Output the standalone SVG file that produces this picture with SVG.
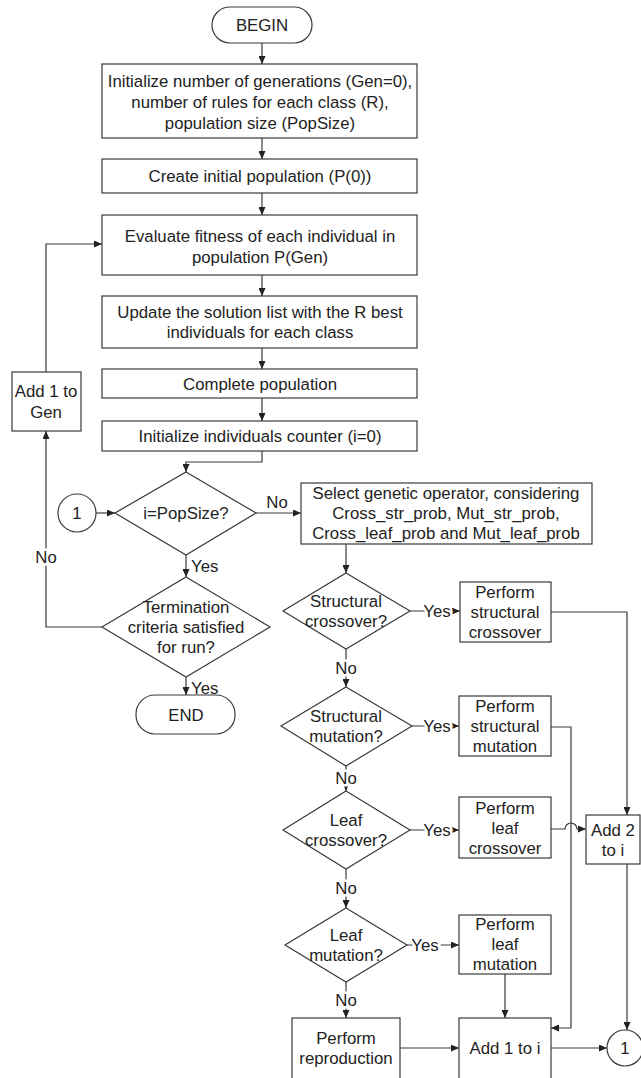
<svg xmlns="http://www.w3.org/2000/svg" width="641" height="1078" viewBox="0 0 641 1078">
<style>
.s{fill:#fff;stroke:#3a3a3a;stroke-width:1.2}
.c{fill:none;stroke:#3a3a3a;stroke-width:1.2}
text{font-family:"Liberation Sans",Arial,sans-serif;font-size:16.8px;fill:#222;text-anchor:middle}
.l{stroke:#fff;stroke-width:5;paint-order:stroke}
.st{text-anchor:start}
</style>
<defs>
<marker id="a" markerWidth="8" markerHeight="7" refX="8" refY="3.5" orient="auto" markerUnits="userSpaceOnUse">
<path d="M0,0 L8,3.5 L0,7 z" fill="#222"/>
</marker>
</defs>
<rect width="641" height="1078" fill="#fff"/>
<g id="connectors" class="c">
<path d="M262,43 V64" marker-end="url(#a)"/>
<path d="M262,138 V159" marker-end="url(#a)"/>
<path d="M262,193 V215" marker-end="url(#a)"/>
<path d="M262,275 V296" marker-end="url(#a)"/>
<path d="M262,348 V369" marker-end="url(#a)"/>
<path d="M262,398 V421" marker-end="url(#a)"/>
<path d="M262,451 V462 H186 V472" marker-end="url(#a)"/>
<path d="M96,513 H115" marker-end="url(#a)"/>
<path d="M256,513 H301" marker-end="url(#a)"/>
<path d="M186,555 V577" marker-end="url(#a)"/>
<path d="M186,677 V695" marker-end="url(#a)"/>
<path d="M102,627 H46 V431" marker-end="url(#a)"/>
<path d="M46,372 V244 H102" marker-end="url(#a)"/>
<path d="M346,544 V573" marker-end="url(#a)"/>
<path d="M410,611 H460" marker-end="url(#a)"/>
<path d="M551,612 H627 V815" marker-end="url(#a)"/>
<path d="M346,649 V687" marker-end="url(#a)"/>
<path d="M412,726 H459" marker-end="url(#a)"/>
<path d="M551,727 H571 V1028 H551" marker-end="url(#a)"/>
<path d="M346,766 V791" marker-end="url(#a)"/>
<path d="M410,830 H459" marker-end="url(#a)"/>
<path d="M551,829 H565 A6,6 0 0 1 577,829 H586" marker-end="url(#a)"/>
<path d="M346,869 V908" marker-end="url(#a)"/>
<path d="M407,945 H459" marker-end="url(#a)"/>
<path d="M505,974 V1018" marker-end="url(#a)"/>
<path d="M346,982 V1018" marker-end="url(#a)"/>
<path d="M400,1048 H459" marker-end="url(#a)"/>
<path d="M551,1048 H607" marker-end="url(#a)"/>
<path d="M627,864 V1030" marker-end="url(#a)"/>
</g>
<g id="labels">
<text x="277" y="508">No</text>
<text class="st" x="191" y="572">Yes</text>
<text class="st" x="191" y="694">Yes</text>
<text class="l" x="46" y="563">No</text>
<text class="l" x="437" y="617">Yes</text>
<text class="l" x="346" y="674">No</text>
<text class="l" x="437" y="732">Yes</text>
<text class="l" x="346" y="784">No</text>
<text class="l" x="437" y="836">Yes</text>
<text class="l" x="346" y="894">No</text>
<text class="l" x="425" y="951">Yes</text>
<text class="l" x="346" y="1006">No</text>
</g>
<g id="begin"><rect class="s" x="212" y="7" width="100" height="36" rx="18"/><text x="262" y="31">BEGIN</text></g>
<g id="init"><rect class="s" x="102" y="64" width="315" height="74"/><text x="260" y="87">Initialize number of generations (Gen=0),</text><text x="260" y="108">number of rules for each class (R),</text><text x="260" y="129">population size (PopSize)</text></g>
<g id="create"><rect class="s" x="102" y="159" width="315" height="34"/><text x="260" y="182">Create initial population (P(0))</text></g>
<g id="evaluate"><rect class="s" x="102" y="215" width="315" height="60"/><text x="260" y="242">Evaluate fitness of each individual in</text><text x="260" y="263">population P(Gen)</text></g>
<g id="update"><rect class="s" x="102" y="296" width="315" height="52"/><text x="260" y="318">Update the solution list with the R best</text><text x="260" y="338">individuals for each class</text></g>
<g id="complete"><rect class="s" x="102" y="369" width="315" height="29"/><text x="260" y="390">Complete population</text></g>
<g id="counter"><rect class="s" x="102" y="421" width="315" height="30"/><text x="260" y="442">Initialize individuals counter (i=0)</text></g>
<g id="addgen"><rect class="s" x="12" y="372" width="69" height="59"/><text x="46" y="397">Add 1 to</text><text x="46" y="418">Gen</text></g>
<g id="conn1"><circle class="s" cx="77" cy="513" r="19"/><text x="77" y="519">1</text></g>
<g id="popsize"><polygon class="s" points="186,472 256,513 186,555 115,513"/><text x="186" y="519">i=PopSize?</text></g>
<g id="term"><polygon class="s" points="186,577 270,627 186,677 102,627"/><text x="186" y="613">Termination</text><text x="186" y="633">criteria satisfied</text><text x="186" y="653">for run?</text></g>
<g id="end"><rect class="s" x="136" y="695" width="99" height="39" rx="19"/><text x="186" y="721">END</text></g>
<g id="select"><rect class="s" x="301" y="483" width="291" height="61"/><text x="446" y="499">Select genetic operator, considering</text><text x="446" y="519">Cross_str_prob, Mut_str_prob,</text><text x="446" y="539">Cross_leaf_prob and Mut_leaf_prob</text></g>
<g id="sc"><polygon class="s" points="346,573 410,611 346,649 283,611"/><text x="346" y="607">Structural</text><text x="346" y="627">crossover?</text></g>
<g id="psc"><rect class="s" x="460" y="582" width="91" height="60"/><text x="505" y="598">Perform</text><text x="505" y="618">structural</text><text x="505" y="638">crossover</text></g>
<g id="sm"><polygon class="s" points="346,687 412,726 346,766 281,726"/><text x="346" y="722">Structural</text><text x="346" y="742">mutation?</text></g>
<g id="psm"><rect class="s" x="459" y="696" width="92" height="60"/><text x="505" y="712">Perform</text><text x="505" y="732">structural</text><text x="505" y="752">mutation</text></g>
<g id="lc"><polygon class="s" points="346,791 410,830 346,869 283,830"/><text x="346" y="826">Leaf</text><text x="346" y="846">crossover?</text></g>
<g id="plc"><rect class="s" x="459" y="797" width="92" height="61"/><text x="505" y="814">Perform</text><text x="505" y="834">leaf</text><text x="505" y="854">crossover</text></g>
<g id="add2"><rect class="s" x="586" y="815" width="54" height="49"/><text x="613" y="836">Add 2</text><text x="613" y="856">to i</text></g>
<g id="lm"><polygon class="s" points="346,908 407,945 346,982 285,945"/><text x="346" y="941">Leaf</text><text x="346" y="961">mutation?</text></g>
<g id="plm"><rect class="s" x="459" y="915" width="92" height="59"/><text x="505" y="930">Perform</text><text x="505" y="950">leaf</text><text x="505" y="970">mutation</text></g>
<g id="repro"><rect class="s" x="292" y="1018" width="108" height="72"/><text x="346" y="1044">Perform</text><text x="346" y="1064">reproduction</text></g>
<g id="add1"><rect class="s" x="459" y="1018" width="92" height="72"/><text x="505" y="1054">Add 1 to i</text></g>
<g id="conn1b"><circle class="s" cx="625" cy="1048" r="18"/><text x="625" y="1054">1</text></g>
</svg>
